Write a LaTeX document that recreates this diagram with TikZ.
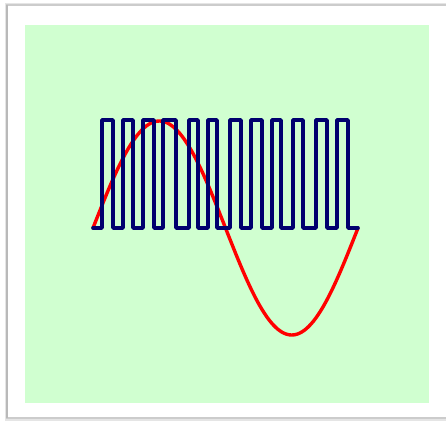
\documentclass[tikz,border=0pt]{standalone}
\usetikzlibrary{calc}
\definecolor{bggreen}{RGB}{208,255,208}
\definecolor{pwmblue}{RGB}{0,0,110}
\definecolor{sinered}{RGB}{255,0,0}
\tikzset{
  pwm/.style={draw=pwmblue, line width=3.6pt, line join=round, line cap=round},
  sinecurve/.style={draw=sinered, line width=3.4pt, line cap=round},
}
\begin{document}
\begin{tikzpicture}[x=1pt,y=-1pt]
\useasboundingbox (0,0) rectangle (446,420);
\fill[white] (0,0) rectangle (446,420);
% frame shadow
\draw[gray!20, line width=4pt] (7,5) rectangle (447,419);
\draw[gray!40, line width=1.2pt] (7,5) rectangle (447,418);
\draw[gray!55, line width=1.2pt] (7,5) -- (7,418);
\fill[white] (8,6) rectangle (446,417);
% green panel
\fill[bggreen] (25,25) rectangle (429,403);
% sine
\draw[sinecurve] plot[domain=0:265, samples=120, smooth] ({93+\x}, {228 - 107*sin(1.358491*\x)});
% PWM square wave
\def\lo{228}
\def\hi{120}
\draw[pwm] (93,\lo)
  -- (102,\lo) -- (102,\hi) -- (113,\hi) -- (113,\lo)
  -- (123,\lo) -- (123,\hi) -- (133,\hi) -- (133,\lo)
  -- (143,\lo) -- (143,\hi) -- (154,\hi) -- (154,\lo)
  -- (163,\lo) -- (163,\hi) -- (176,\hi) -- (176,\lo)
  -- (189,\lo) -- (189,\hi) -- (198,\hi) -- (198,\lo)
  -- (208,\lo) -- (208,\hi) -- (217,\hi) -- (217,\lo)
  -- (230,\lo) -- (230,\hi) -- (241,\hi) -- (241,\lo)
  -- (251,\lo) -- (251,\hi) -- (262,\hi) -- (262,\lo)
  -- (272,\lo) -- (272,\hi) -- (281,\hi) -- (281,\lo)
  -- (293,\lo) -- (293,\hi) -- (303,\hi) -- (303,\lo)
  -- (316,\lo) -- (316,\hi) -- (327,\hi) -- (327,\lo)
  -- (337,\lo) -- (337,\hi) -- (348,\hi) -- (348,\lo)
  -- (358,\lo);
\end{tikzpicture}
\end{document}
